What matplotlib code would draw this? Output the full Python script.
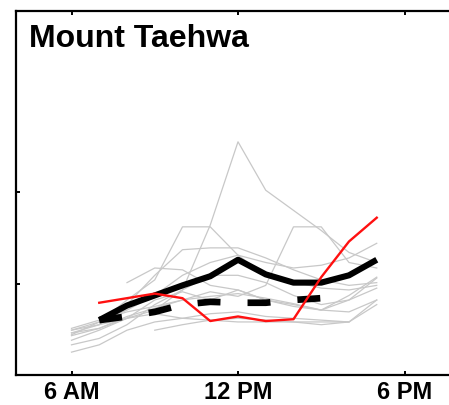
import numpy as np
import matplotlib
matplotlib.use("Agg")
import matplotlib.pyplot as plt

plt.rcParams['font.family'] = ['Liberation Sans', 'DejaVu Sans']
plt.rcParams['lines.scale_dashes'] = False

# hours of day
hours_all = [6, 7, 8, 9, 10, 11, 12, 13, 14, 15, 16, 17]
hours_mean = [7, 8, 9, 10, 11, 12, 13, 14, 15, 16, 17]
hours_dash = [7, 8, 9, 10, 11, 12, 13, 14, 15]

# individual days (grey)
nan = np.nan
day_a = [0.49, 0.55, 0.62, 0.71, 0.93, 1.64, 2.55, 2.02, 1.80, 1.58, 1.34, 1.23]
day_b = [0.44, 0.58, 0.82, 1.04, 1.62, 1.62, 1.31, 1.09, 1.02, 0.95, 0.93, 0.98]
day_c = [0.51, 0.60, 0.69, 0.75, 0.82, 0.91, 0.86, 0.98, 1.62, 1.62, 1.23, 1.17]
day_d = [0.25, 0.33, 0.49, 0.58, 0.62, 0.67, 0.69, 0.64, 0.62, 0.60, 0.58, 0.82]
day_e = [0.46, 0.55, 0.77, 1.09, 1.37, 1.39, 1.39, 1.28, 1.15, 1.04, 0.98, 1.01]
day_f = [0.49, 0.58, 0.71, 0.87, 1.09, 1.23, 1.31, 1.23, 1.17, 1.20, 1.28, 1.44]
day_g = [0.38, 0.49, 0.62, 0.67, 0.62, 0.60, 0.58, 0.58, 0.58, 0.58, 0.58, nan]
day_h = [nan, nan, 1.01, 1.17, 1.15, 0.98, 0.93, 0.82, 0.75, 0.71, 0.82, 1.06]
day_i = [nan, nan, nan, 0.49, 0.55, 0.60, 0.62, 0.60, 0.58, 0.55, 0.58, 0.77]
day_j = [0.33, 0.40, 0.55, 0.77, 0.93, 1.09, 1.09, 1.01, 0.87, 0.77, 0.82, 0.95]
day_k = [0.43, 0.51, 0.62, 0.82, 0.91, 0.82, 0.93, 0.82, 0.77, 0.71, 0.69, 0.82]
day_l = [0.46, 0.51, 0.64, 0.73, 0.82, 0.86, 0.89, 0.84, 0.78, 0.71, 0.87, 1.07]
days = [day_a, day_b, day_c, day_d, day_e, day_f, day_g, day_h, day_i, day_j, day_k, day_l]

# mean, dashed reference and the highlighted day
mean_vals = [0.60, 0.76, 0.87, 0.98, 1.08, 1.26, 1.10, 1.01, 1.01, 1.09, 1.26]
dash_vals = [0.60, 0.64, 0.69, 0.77, 0.80, 0.79, 0.79, 0.82, 0.84]
red_vals = [0.79, 0.84, 0.89, 0.84, 0.59, 0.64, 0.59, 0.61, 1.07, 1.46, 1.72]

tick_pos = [6, 12, 18]
tick_labels = ['6 AM', '12 PM', '6 PM']

fig = plt.figure(figsize=(4.49, 4.05), dpi=100)
ax = fig.add_axes([16/449, 30/405, 444/449, 364/405])

for d in days:
    ax.plot(hours_all, d, color='#c8c8c8', lw=0.9, zorder=1)

ax.plot(hours_mean, mean_vals, color='black', lw=4.4, solid_joinstyle='round',
        solid_capstyle='butt', zorder=3)
ax.plot(hours_dash, dash_vals, color='black', lw=4.8, dashes=(16.5, 19.5), zorder=3)
ax.plot(hours_mean, red_vals, color='#ff1010', lw=1.7, zorder=4)

ax.set_xlim(4, 20)
ax.set_ylim(0, 3.98)
ax.set_xticks(tick_pos)
ax.set_xticklabels(tick_labels, fontsize=17, fontweight='bold')
ax.set_yticks([1, 2])
ax.set_yticklabels([])
ax.tick_params(direction='in', top=True, length=3, width=1.4, pad=4)
for s in ['left', 'bottom', 'top']:
    ax.spines[s].set_linewidth(1.6)
ax.spines['right'].set_visible(False)

ax.text(0.03, 0.965, 'Mount Taehwa', transform=ax.transAxes, fontsize=23,
        fontweight='bold', va='top', ha='left')

fig.savefig('out.png', dpi=100)
